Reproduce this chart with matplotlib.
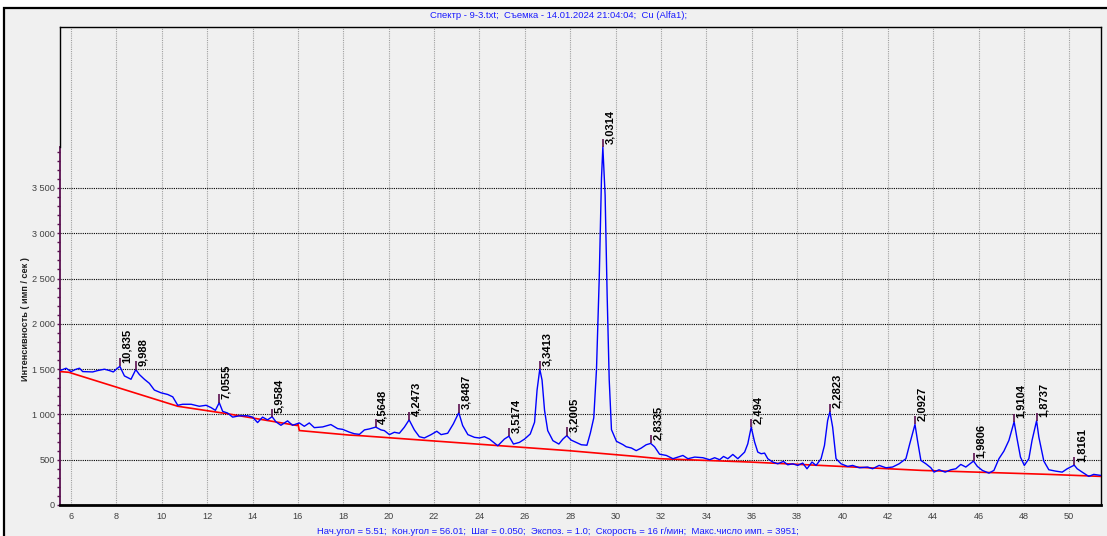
import matplotlib
matplotlib.use('Agg')
import matplotlib.pyplot as plt
from matplotlib.patches import Rectangle
from matplotlib.ticker import FixedLocator, FuncFormatter

plt.rcParams['font.family'] = ['Liberation Sans', 'DejaVu Sans']

# спектр (2theta, имп/сек)
theta = [5.51, 5.78, 6.00, 6.22, 6.37, 6.51, 6.95, 7.17, 7.47, 7.69, 7.86, 8.04, 8.15,
         8.35, 8.64, 8.85, 9.01, 9.23, 9.45, 9.67, 9.96, 10.26, 10.48, 10.70, 10.92,
         11.29, 11.65, 11.95, 12.17, 12.36, 12.53, 12.68, 12.90, 13.12, 13.42, 13.78,
         14.00, 14.22, 14.44, 14.66, 14.86, 15.03, 15.25, 15.54, 15.76, 16.06, 16.28,
         16.50, 16.72, 17.09, 17.45, 17.75, 17.97, 18.26, 18.48, 18.71, 18.93, 19.15,
         19.43, 19.66, 19.81, 20.03, 20.25, 20.47, 20.69, 20.90, 21.13, 21.35, 21.57,
         21.87, 22.12, 22.31, 22.60, 22.85, 23.09, 23.26, 23.49, 23.78, 24.00, 24.22,
         24.44, 24.81, 25.10, 25.30, 25.50, 25.76, 25.99, 26.24, 26.43, 26.54, 26.66,
         26.76, 26.87, 27.01, 27.24, 27.50, 27.68, 27.85, 28.04, 28.26, 28.49, 28.74,
         28.89, 29.04, 29.16, 29.28, 29.38, 29.44, 29.54, 29.63, 29.72, 29.82, 30.04,
         30.33, 30.47, 30.70, 30.91, 31.13, 31.35, 31.55, 31.72, 31.94, 32.24, 32.53,
         32.75, 32.97, 33.19, 33.49, 33.85, 34.15, 34.37, 34.59, 34.76, 34.95, 35.17,
         35.39, 35.69, 35.83, 35.98, 36.13, 36.27, 36.42, 36.57, 36.71, 36.93, 37.15,
         37.40, 37.59, 37.81, 38.03, 38.25, 38.44, 38.66, 38.84, 39.06, 39.21, 39.35,
         39.45, 39.57, 39.72, 39.94, 40.23, 40.45, 40.75, 41.11, 41.33, 41.62, 41.92,
         42.21, 42.50, 42.80, 42.97, 43.20, 43.31, 43.46, 43.68, 43.90, 44.04, 44.26,
         44.53, 44.78, 45.00, 45.22, 45.44, 45.78, 45.95, 46.17, 46.46, 46.68, 46.90,
         47.12, 47.34, 47.57, 47.70, 47.85, 48.02, 48.22, 48.36, 48.56, 48.66, 48.88,
         49.10, 49.40, 49.69, 49.91, 50.22, 50.35, 50.57, 50.86, 51.08, 51.38]
counts = [1484, 1510, 1473, 1499, 1510, 1473, 1469, 1484, 1499, 1484, 1469, 1510, 1530,
          1425, 1388, 1495, 1440, 1388, 1343, 1269, 1239, 1220, 1194, 1101, 1112,
          1112, 1090, 1101, 1075, 1045, 1130, 1034, 1015, 970, 985, 985,
          970, 910, 970, 940, 975, 918, 880, 929, 880, 906, 869,
          906, 854, 862, 888, 843, 835, 805, 787, 780, 829, 840,
          860, 829, 821, 777, 803, 792, 859, 940, 829, 754, 740,
          777, 814, 777, 792, 896, 1020, 877, 777, 747, 740, 754,
          728, 654, 728, 760, 673, 691, 728, 784, 914, 1268, 1500,
          1379, 1045, 821, 710, 673, 728, 766, 717, 691, 665, 660,
          795, 962, 1498, 2497, 3607, 3951, 3422, 2312, 1387, 832, 703,
          666, 643, 629, 600, 628, 665, 680, 643, 561, 547, 511,
          529, 547, 511, 529, 522, 500, 522, 500, 536, 511, 558,
          511, 584, 676, 860, 695, 584, 566, 573, 511, 474, 455,
          481, 444, 455, 437, 463, 400, 474, 437, 511, 658, 934,
          1030, 860, 511, 455, 426, 437, 411, 419, 400, 437, 411,
          419, 455, 511, 676, 890, 713, 492, 455, 411, 363, 389,
          363, 389, 400, 448, 419, 485, 426, 382, 352, 382, 511,
          595, 713, 920, 731, 529, 437, 511, 713, 930, 750, 485,
          389, 374, 363, 400, 440, 400, 363, 316, 338, 327]

# фон
bg_theta = [5.51, 5.90, 10.70, 12.83, 15.95, 16.00, 16.06, 18.26, 18.71, 27.98, 30.92,
            31.95, 35.95, 39.94, 43.50, 49.10, 51.38]
bg_counts = [1473, 1465, 1090, 1010, 878, 895, 822, 772, 766, 599, 536,
             511, 474, 426, 382, 338, 316]

# пики
peak_d = ["10,835", "9,988", "7,0555", "5,9584", "4,5648", "4,2473", "3,8487", "3,5174",
          "3,3413", "3,2005", "3,0314", "2,8335", "2,494", "2,2823", "2,0927", "1,9806",
          "1,9104", "1,8737", "1,8161"]
peak_x = [8.15, 8.85, 12.53, 14.86, 19.43, 20.90, 23.09, 25.30, 26.66, 27.85, 29.44,
          31.55, 35.98, 39.45, 43.20, 45.78, 47.57, 48.56, 50.22]
peak_y = [1530, 1495, 1130, 975, 860, 940, 1020, 760, 1500, 766, 3951, 680, 860, 1030,
          890, 485, 920, 930, 440]

title = "Спектр - 9-3.txt;  Съемка - 14.01.2024 21:04:04;  Cu (Alfa1);"
footer = ("Нач.угол = 5.51;  Кон.угол = 56.01;  Шаг = 0.050;  Экспоз. = 1.0;  "
          "Скорость = 16 г/мин;  Макс.число имп. = 3951;")
ylabel = "Интенсивность ( имп / сек )"

W, H = 1107, 536
purple = '#5a1050'
fig = plt.figure(figsize=(W / 100, H / 100), dpi=100, facecolor='white')
fig.patches.append(Rectangle((4 / W, -0.05), 1.2, (H - 8) / H + 0.05,
                             transform=fig.transFigure, facecolor='#f0f0f0',
                             edgecolor='black', lw=1.6, zorder=-10))

ax = fig.add_axes([60 / W, 31 / H, 1041 / W, 478 / H])
ax.set_facecolor('#f0f0f0')
ymax = 5277
ax.set_xlim(5.51, 51.40)
ax.set_ylim(0, ymax)

ax.plot(bg_theta, bg_counts, color='#ff0000', lw=1.2, zorder=3)
ax.plot(theta, counts, color='#0000ff', lw=1.0, zorder=4)

ax.vlines(peak_x, peak_y, [y + 90 for y in peak_y], color=purple, lw=1.2, zorder=5)
for lab, x, y in zip(peak_d, peak_x, peak_y):
    ax.annotate(lab, (x, y), xytext=(1.5, 2.5), textcoords='offset points',
                rotation=90, ha='left', va='bottom', fontsize=8, fontweight='bold',
                color='black', zorder=6)

# оси
ax.set_xticks(range(6, 51, 2))
ax.set_yticks(range(0, 3501, 500))
ax.yaxis.set_minor_locator(FixedLocator([v for v in range(100, 4000, 100) if v % 500]))
ax.yaxis.set_major_formatter(FuncFormatter(lambda v, p: f"{int(v):,}".replace(",", " ")))
ax.tick_params(axis='x', length=0, pad=5, labelsize=6.6, labelcolor='#404040')
ax.tick_params(axis='y', which='both', length=2.5, width=1, color=purple, pad=1,
               labelsize=6.6, labelcolor='#404040')

ax.xaxis.grid(True, color='#a0a0a0', linestyle=(0, (1, 1)), lw=0.8)
ax.yaxis.grid(True, color='black', linestyle=(0, (1, 1)), lw=0.8)
ax.set_axisbelow(True)

for s in ['top', 'right']:
    ax.spines[s].set_color('black')
    ax.spines[s].set_linewidth(1)
ax.spines['bottom'].set_linewidth(2)
ax.spines['left'].set_color(purple)
ax.spines['left'].set_linewidth(1.3)
ax.spines['left'].set_bounds(0, 3951)
ax.plot([0, 0], [3951 / ymax, 1], transform=ax.transAxes, color='black', lw=1,
        clip_on=False, zorder=6)

fig.text(559 / W, 1 - 15.5 / H, title, ha='center', va='center', fontsize=6.8,
         color='#1a1aff')
fig.text(558 / W, 1 - 531 / H, footer, ha='center', va='center', fontsize=6.8,
         color='#1a1aff')
fig.text(26 / W, 1 - 319 / H, ylabel, ha='center', va='center', rotation=90,
         fontsize=6.6, fontweight='bold', color='#202020')

fig.savefig('out.png', dpi=100, facecolor=fig.get_facecolor())
